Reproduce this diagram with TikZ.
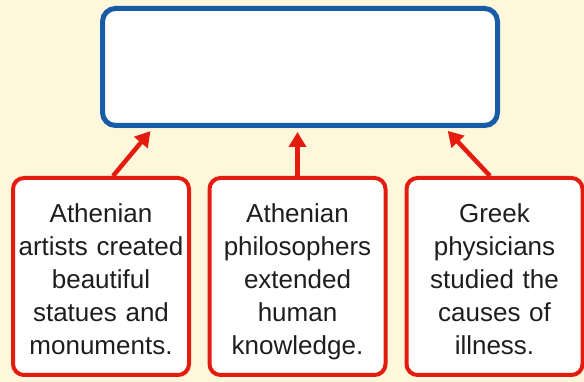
\documentclass[tikz,border=0pt]{standalone}
\usepackage{fontspec}
\setmainfont{Liberation Sans}
\usepackage{tikz}
\usetikzlibrary{arrows.meta}
\usetikzlibrary{positioning}
\usetikzlibrary{shadows}
\definecolor{cream}{RGB}{255,247,220}
\definecolor{boxblue}{RGB}{22,92,166}
\definecolor{boxred}{RGB}{228,28,16}
\definecolor{inkgray}{RGB}{30,30,30}
\tikzset{
  goalbox/.style = {draw=boxblue, fill=white, line width=5pt,
    rounded corners=13pt, minimum width=395pt, minimum height=117pt,
    drop shadow={opacity=0.15, shadow xshift=2pt, shadow yshift=-3pt}},% empty main box
  factbox/.style = {draw=boxred, fill=white, line width=4pt,
    rounded corners=11pt, minimum width=176pt, minimum height=197pt,
    text width=172pt, inner sep=0pt, align=center, text=inkgray,
    font=\fontsize{26}{33}\selectfont,
    execute at begin node=\rule{0pt}{33pt}, execute at end node=\strut,
    drop shadow={opacity=0.12, shadow xshift=2pt, shadow yshift=-2pt}},% red fact box
  factarrow/.style = {boxred, line width=4.5pt, shorten >=4pt}% red arrow up
}

\begin{document}
\begin{tikzpicture}[x=1pt,y=1pt,->,>={Triangle[length=15pt,width=17pt]}]
\fill [cream] (0,0) rectangle (584,382);
\useasboundingbox (0,0) rectangle (584,382);

\node [goalbox] (goal) at (300,315) {};

\node [factbox] (artists) at (101,105.5)
  {Athenian\\artists created\\beautiful\\statues and\\monuments.};
\node [factbox] (philos) at (297.5,105.5)
  {Athenian\\philosophers\\extended\\human\\knowledge.};
\node [factbox] (physic) at (494.5,105.5)
  {Greek\\physicians\\studied the\\causes of\\illness.};

\draw [factarrow] ([xshift=12pt]artists.north) -- ([xshift=-147pt]goal.south);
\draw [factarrow] (philos.north) -- ([xshift=-2.5pt]goal.south);
\draw [factarrow] ([xshift=-4.5pt]physic.north) -- ([xshift=145pt]goal.south);
\end{tikzpicture}
\end{document}
